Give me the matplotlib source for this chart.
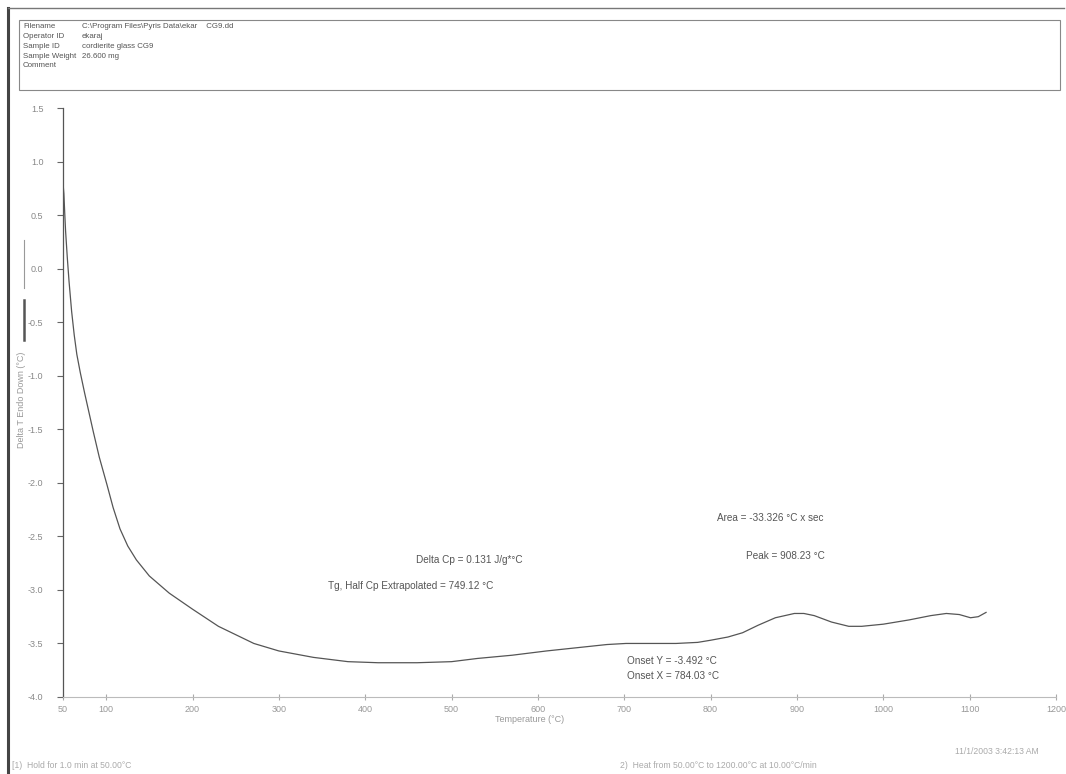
import matplotlib
matplotlib.use("Agg")
import matplotlib.pyplot as plt
from matplotlib.lines import Line2D
from matplotlib.patches import Rectangle

plt.rcParams['font.family'] = ['Liberation Sans', 'DejaVu Sans']

# DSC trace: temperature (°C) and heat-flow signal (Delta T, °C)
temperature = [50, 51, 52, 53, 55, 57, 60, 63, 66, 70, 75, 80, 85, 92, 101,
               108, 116, 125, 135, 150, 173, 200, 230, 271, 300, 340, 380,
               415, 460, 500, 530, 570, 610, 645, 680, 702, 730, 760, 785,
               800, 820, 837, 855, 875, 897, 908, 920, 940, 960, 975, 1000,
               1030, 1055, 1073, 1088, 1101, 1110, 1119]
delta_t = [0.80, 0.70, 0.52, 0.35, 0.10, -0.12, -0.40, -0.62, -0.80, -0.97,
           -1.16, -1.34, -1.52, -1.76, -2.02, -2.23, -2.43, -2.59, -2.72,
           -2.87, -3.03, -3.18, -3.34, -3.50, -3.57, -3.63, -3.67, -3.68,
           -3.68, -3.67, -3.64, -3.61, -3.57, -3.54, -3.51, -3.50, -3.50,
           -3.50, -3.49, -3.47, -3.44, -3.40, -3.33, -3.26, -3.22, -3.22,
           -3.24, -3.30, -3.34, -3.34, -3.32, -3.28, -3.24, -3.22, -3.23,
           -3.26, -3.25, -3.21]

x_ticks = [50, 100, 200, 300, 400, 500, 600, 700, 800, 900, 1000, 1100, 1200]
y_ticks = [1.5, 1.0, 0.5, 0.0, -0.5, -1.0, -1.5, -2.0, -2.5, -3.0, -3.5, -4.0]

header_fields = ["Filename", "Operator ID", "Sample ID", "Sample Weight", "Comment"]
header_values = [r"C:\Program Files\Pyris Data\ekar    CG9.dd", "ekaraj",
                 "cordierite glass CG9", "26.600 mg", ""]

W, H = 1066, 774
fig = plt.figure(figsize=(W / 100, H / 100), dpi=100)
fig.patch.set_facecolor("white")


def fx(px):
    return px / W


def fy(py):
    return 1 - py / H


# page frame
fig.add_artist(Line2D([fx(8), fx(8)], [fy(8), fy(774)], color="#444444", lw=2.2))
fig.add_artist(Line2D([fx(8), fx(1064)], [fy(8), fy(8)], color="#777777", lw=1.0))

# header box
fig.add_artist(Rectangle((fx(19), fy(90)), fx(1060 - 19), (90 - 20) / H,
                         fill=False, edgecolor="#888888", lw=0.8))
for i, (name, val) in enumerate(zip(header_fields, header_values)):
    yy = fy(27 + i * 9.7)
    fig.text(fx(23), yy, name, fontsize=5.7, color="#555555", va="center")
    fig.text(fx(82), yy, val, fontsize=5.7, color="#555555", va="center")

ax = fig.add_axes([fx(63), fy(697), fx(1056 - 63), (697 - 108) / H])
ax.plot(temperature, delta_t, color="#555555", lw=0.9)
ax.set_xlim(50, 1200)
ax.set_ylim(-4.0, 1.5)
ax.set_xticks(x_ticks)
ax.set_yticks(y_ticks)
ax.set_xticklabels([str(v) for v in x_ticks], fontsize=6.5, color="#999999")
ax.set_yticklabels([f"{v:.1f}" for v in y_ticks], fontsize=6.5, color="#888888")
ax.tick_params(axis="y", direction="out", length=4, color="#666666", pad=10)
ax.tick_params(axis="x", direction="inout", length=5, color="#aaaaaa", pad=3)
for s in ("top", "right"):
    ax.spines[s].set_visible(False)
ax.spines["left"].set_color("#555555")
ax.spines["left"].set_linewidth(0.9)
ax.spines["bottom"].set_color("#bbbbbb")
ax.spines["bottom"].set_linewidth(0.8)
ax.set_facecolor("none")

fig.text(fx(530), fy(720), "Temperature (°C)", fontsize=6.5, color="#999999",
         ha="center", va="center")
fig.text(fx(22), fy(400), "Delta T Endo Down (°C)", fontsize=6.5, color="#999999",
         ha="center", va="center", rotation=90)
# trace key marks next to the y label
fig.add_artist(Line2D([fx(24), fx(24)], [fy(240), fy(288)], color="#999999", lw=0.8))
fig.add_artist(Line2D([fx(24), fx(24)], [fy(300), fy(340)], color="#555555", lw=1.8))

# analysis results
ann = dict(fontsize=7.2, color="#555555", va="center")
fig.text(fx(717), fy(518), "Area = -33.326 °C x sec", **ann)
fig.text(fx(746), fy(556), "Peak = 908.23 °C", **ann)
fig.text(fx(416), fy(560), "Delta Cp = 0.131 J/g*°C", **ann)
fig.text(fx(328), fy(586), "Tg, Half Cp Extrapolated = 749.12 °C", **ann)
fig.text(fx(627), fy(661), "Onset Y = -3.492 °C", **ann)
fig.text(fx(627), fy(676), "Onset X = 784.03 °C", **ann)

# method steps and timestamp
foot = dict(fontsize=6.2, color="#aaaaaa", va="center")
fig.text(fx(12), fy(765), "[1)  Hold for 1.0 min at 50.00°C", **foot)
fig.text(fx(620), fy(765), "2)  Heat from 50.00°C to 1200.00°C at 10.00°C/min", **foot)
fig.text(fx(955), fy(751), "11/1/2003 3:42:13 AM", **foot)

fig.savefig("out.png", dpi=100, facecolor="white")
